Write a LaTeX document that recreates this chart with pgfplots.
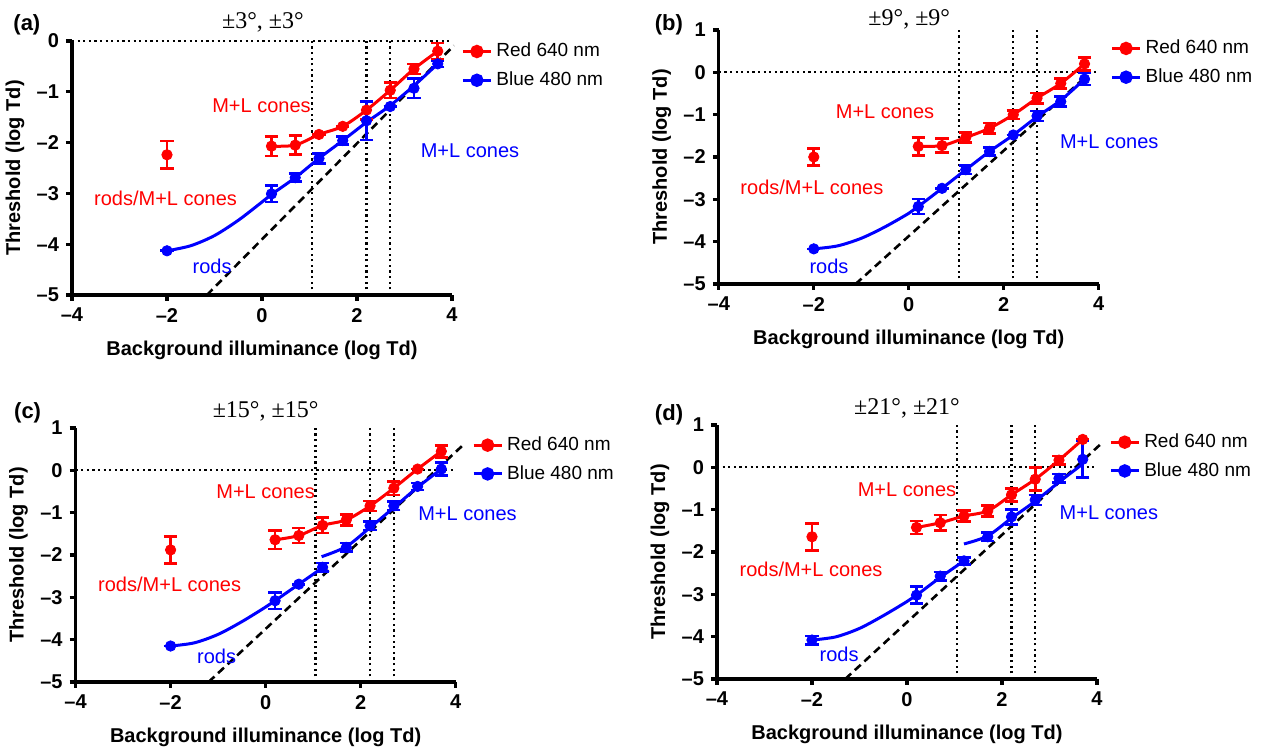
\documentclass[border=0pt]{standalone}
\usepackage{fontspec}
\setmainfont{Liberation Sans}
\newfontfamily\serif{Liberation Serif}
\usepackage{pgfplots}
\pgfplotsset{compat=1.18}
\definecolor{pred}{RGB}{255,0,0}
\definecolor{pblue}{RGB}{0,0,255}

\pgfplotsset{
  panel/.style={
    scale only axis, width=190pt, height=127pt,
    xmin=-4, xmax=4, ymin=-5, clip=false,
    axis lines*=left,
    x axis line style={-, line width=1.6pt},
    y axis line style={-, line width=1.6pt},
    tick align=outside, major tick length=3pt,
    tick style={line width=1.6pt, black},
    xtick={-4,-2,0,2,4}, xticklabels={–4,–2,0,2,4},
    ticklabel style={font=\bfseries\fontsize{10}{12}\selectfont},
    xlabel={Background illuminance (log Td)},
    ylabel={Threshold (log Td)},
    label style={font=\bfseries\fontsize{10}{12}\selectfont},
    xlabel style={at={([yshift=-27.5pt]axis description cs:0.5,0)}, anchor=center},
    ylabel style={at={([xshift=-28.5pt]axis description cs:0,0.5)}, anchor=center},
    legend style={draw=none, fill=none, inner sep=0pt,
      font=\fontsize{9.5}{11}\selectfont, row sep=2pt,
      cells={anchor=west}},
    legend image code/.code={\draw[mark repeat=2,mark phase=2,#1] plot coordinates {(0pt,0pt)(7pt,0pt)(14pt,0pt)};},
  },
  guide/.style={black, line width=1.1pt, dash pattern=on 1.1pt off 1.7pt, forget plot},
  diag/.style={black, line width=1.3pt, dash pattern=on 4pt off 2.5pt, forget plot},
  curve/.style={line width=1.5pt, smooth, no markers, forget plot},
  redpts/.style={pred, only marks, mark=*, mark size=2.6pt, forget plot,
    error bars/.cd, y dir=both, y explicit,
    error bar style={line width=1.3pt, pred},
    error mark options={rotate=90, line width=1.3pt, mark size=3.3pt, pred}},
  bluepts/.style={pblue, only marks, mark=*, mark size=2.6pt, forget plot,
    error bars/.cd, y dir=both, y explicit,
    error bar style={line width=1.3pt, pblue},
    error mark options={rotate=90, line width=1.3pt, mark size=3.3pt, pblue}},
  redleg/.style={pred, line width=1.5pt, mark=*, mark size=2.6pt},
  blueleg/.style={pblue, line width=1.5pt, mark=*, mark size=2.6pt},
}
\newcommand{\annot}{\fontsize{10}{12}\selectfont}
\newcommand{\ttl}{\serif\fontsize{12}{14}\selectfont}
\newcommand{\plab}{\bfseries\fontsize{11}{13}\selectfont}

\begin{document}
\begin{tikzpicture}
\useasboundingbox (0,0) rectangle (633pt,375pt);

% ---------------- (a) ----------------
\begin{axis}[panel, at={(36pt,227.5pt)}, anchor=south west, ymax=0,
  ytick={-5,-4,-3,-2,-1,0}, yticklabels={–5,–4,–3,–2,–1,0},
  legend style={at={(axis cs:4.19,-0.49)}, anchor=west}]
\addlegendimage{redleg}\addlegendentry{Red 640 nm}
\addlegendimage{blueleg}\addlegendentry{Blue 480 nm}
\addplot[guide] coordinates {(-4,0) (4,0)};
\addplot[guide] coordinates {(1.05,-5) (1.05,0)};
\addplot[guide] coordinates {(2.2,-5) (2.2,0)};
\addplot[guide] coordinates {(2.7,-5) (2.7,0)};
\addplot[diag] coordinates {(-1.16,-5) (4.04,-0.09)};
\addplot[curve, pblue] coordinates {(-2,-4.13) (-1.5,-4.03) (-1,-3.83) (-0.5,-3.53) (0,-3.17) (0.2,-3.02) (0.7,-2.69) (1.2,-2.31) (1.7,-1.96) (2.2,-1.60) (2.7,-1.27) (3.2,-0.88) (3.7,-0.45)};
\addplot[curve, pred] coordinates {(0.2,-2.07) (0.7,-2.05) (1.2,-1.84) (1.7,-1.68) (2.2,-1.36) (2.7,-0.97) (3.2,-0.55) (3.7,-0.20)};
\addplot[redpts] coordinates {(-2,-2.24) +- (0,0.27) (0.2,-2.07) +- (0,0.19) (0.7,-2.05) +- (0,0.19) (1.2,-1.84) +- (0,0.0) (1.7,-1.68) +- (0,0.0) (2.2,-1.36) +- (0,0.18) (2.7,-0.97) +- (0,0.15) (3.2,-0.55) +- (0,0.10) (3.7,-0.20) +- (0,0.16)};
\addplot[bluepts] coordinates {(-2,-4.13) +- (0,0.0) (0.2,-3.01) +- (0,0.16) (0.7,-2.69) +- (0,0.08) (1.2,-2.31) +- (0,0.10) (1.7,-1.96) +- (0,0.08) (2.2,-1.57) +- (0,0.38) (2.7,-1.29) +- (0,0.0) (3.2,-0.93) +- (0,0.19) (3.7,-0.45) +- (0,0.06)};
\node[text=pred, font=\annot] at (axis cs:-0.01,-1.27) {M+L cones};
\node[text=pred, font=\annot] at (axis cs:-2.03,-3.09) {rods/M+L cones};
\node[text=pblue, font=\annot] at (axis cs:4.38,-2.16) {M+L cones};
\node[text=pblue, font=\annot] at (axis cs:-1.05,-4.44) {rods};
\node[font=\ttl] at (axis cs:0.02,0.375) {±3°, ±3°};
\node[font=\plab] at (axis cs:-4.95,0.31) {(a)};
\end{axis}

% ---------------- (b) ----------------
\begin{axis}[panel, at={(359.4pt,233pt)}, anchor=south west, ymax=1,
  ytick={-5,-4,-3,-2,-1,0,1}, yticklabels={–5,–4,–3,–2,–1,0,1},
  legend style={at={(axis cs:4.24,0.225)}, anchor=west}]
\addlegendimage{redleg}\addlegendentry{Red 640 nm}
\addlegendimage{blueleg}\addlegendentry{Blue 480 nm}
\addplot[guide] coordinates {(-4,0) (4,0)};
\addplot[guide] coordinates {(1.05,-5) (1.05,1)};
\addplot[guide] coordinates {(2.2,-5) (2.2,1)};
\addplot[guide] coordinates {(2.7,-5) (2.7,1)};
\addplot[diag] coordinates {(-1.12,-5) (3.75,-0.08)};
\addplot[curve, pblue] coordinates {(-2,-4.17) (-1.5,-4.10) (-1,-3.92) (-0.5,-3.65) (0,-3.33) (0.2,-3.17) (0.7,-2.74) (1.2,-2.30) (1.7,-1.87) (2.2,-1.48) (2.7,-1.05) (3.2,-0.66) (3.7,-0.16)};
\addplot[curve, pred] coordinates {(0.2,-1.75) (0.7,-1.73) (1.2,-1.54) (1.7,-1.32) (2.2,-1.00) (2.7,-0.61) (3.2,-0.26) (3.7,0.20)};
\addplot[redpts] coordinates {(-2,-2.00) +- (0,0.20) (0.2,-1.75) +- (0,0.21) (0.7,-1.73) +- (0,0.17) (1.2,-1.54) +- (0,0.12) (1.7,-1.32) +- (0,0.12) (2.2,-1.00) +- (0,0.10) (2.7,-0.61) +- (0,0.12) (3.2,-0.26) +- (0,0.12) (3.7,0.20) +- (0,0.15)};
\addplot[bluepts] coordinates {(-2,-4.17) +- (0,0.0) (0.2,-3.17) +- (0,0.18) (0.7,-2.74) +- (0,0.0) (1.2,-2.30) +- (0,0.10) (1.7,-1.87) +- (0,0.10) (2.2,-1.48) +- (0,0.0) (2.7,-1.03) +- (0,0.12) (3.2,-0.69) +- (0,0.12) (3.7,-0.16) +- (0,0.14)};
\node[text=pred, font=\annot] at (axis cs:-0.50,-0.93) {M+L cones};
\node[text=pred, font=\annot] at (axis cs:-2.04,-2.71) {rods/M+L cones};
\node[text=pblue, font=\annot] at (axis cs:4.22,-1.63) {M+L cones};
\node[text=pblue, font=\annot] at (axis cs:-1.68,-4.58) {rods};
\node[font=\ttl] at (axis cs:0.01,1.24) {±9°, ±9°};
\node[font=\plab] at (axis cs:-5.05,1.12) {(b)};
\end{axis}

% ---------------- (c) ----------------
\begin{axis}[panel, at={(37.8pt,34pt)}, anchor=south west, ymax=1,
  ytick={-5,-4,-3,-2,-1,0,1}, yticklabels={–5,–4,–3,–2,–1,0,1},
  legend style={at={(axis cs:4.34,0.255)}, anchor=west}]
\addlegendimage{redleg}\addlegendentry{Red 640 nm}
\addlegendimage{blueleg}\addlegendentry{Blue 480 nm}
\addplot[guide] coordinates {(-4,0) (4,0)};
\addplot[guide] coordinates {(1.05,-5) (1.05,1)};
\addplot[guide] coordinates {(2.2,-5) (2.2,1)};
\addplot[guide] coordinates {(2.7,-5) (2.7,1)};
\addplot[diag] coordinates {(-1.20,-5) (4.17,0.61)};
\addplot[curve, pblue] coordinates {(-2,-4.15) (-1.5,-4.075) (-1,-3.875) (-0.5,-3.575) (0,-3.23) (0.2,-3.08) (0.7,-2.69) (1.2,-2.30)};
\addplot[curve, pblue] coordinates {(1.18,-2.04) (1.7,-1.80) (2.2,-1.35) (2.7,-0.88) (3.2,-0.40) (3.7,0.03)};
\addplot[curve, pred] coordinates {(0.2,-1.64) (0.7,-1.54) (1.2,-1.30) (1.7,-1.17) (2.2,-0.84) (2.7,-0.42) (3.2,0.03) (3.7,0.45)};
\addplot[redpts] coordinates {(-2,-1.88) +- (0,0.32) (0.2,-1.64) +- (0,0.22) (0.7,-1.54) +- (0,0.18) (1.2,-1.30) +- (0,0.18) (1.7,-1.17) +- (0,0.13) (2.2,-0.84) +- (0,0.12) (2.7,-0.42) +- (0,0.16) (3.2,0.03) +- (0,0.0) (3.7,0.45) +- (0,0.14)};
\addplot[bluepts] coordinates {(-2,-4.15) +- (0,0.0) (0.2,-3.08) +- (0,0.20) (0.7,-2.69) +- (0,0.0) (1.2,-2.29) +- (0,0.10) (1.7,-1.82) +- (0,0.10) (2.2,-1.31) +- (0,0.10) (2.7,-0.84) +- (0,0.10) (3.2,-0.38) +- (0,0.08) (3.7,0.03) +- (0,0.15)};
\node[text=pred, font=\annot] at (axis cs:0.0,-0.50) {M+L cones};
\node[text=pred, font=\annot] at (axis cs:-2.02,-2.69) {rods/M+L cones};
\node[text=pblue, font=\annot] at (axis cs:4.25,-1.03) {M+L cones};
\node[text=pblue, font=\annot] at (axis cs:-1.03,-4.39) {rods};
\node[font=\ttl] at (axis cs:0.0,1.39) {±15°, ±15°};
\node[font=\plab] at (axis cs:-5.01,1.36) {(c)};
\end{axis}

% ---------------- (d) ----------------
\begin{axis}[panel, at={(358.5pt,35.5pt)}, anchor=south west, ymax=1,
  ytick={-5,-4,-3,-2,-1,0,1}, yticklabels={–5,–4,–3,–2,–1,0,1},
  legend style={at={(axis cs:4.25,0.255)}, anchor=west}]
\addlegendimage{redleg}\addlegendentry{Red 640 nm}
\addlegendimage{blueleg}\addlegendentry{Blue 480 nm}
\addplot[guide] coordinates {(-4,0) (4,0)};
\addplot[guide] coordinates {(1.05,-5) (1.05,1)};
\addplot[guide] coordinates {(2.2,-5) (2.2,1)};
\addplot[guide] coordinates {(2.7,-5) (2.7,1)};
\addplot[diag] coordinates {(-1.30,-5) (4.06,0.53)};
\addplot[curve, pblue] coordinates {(-2,-4.08) (-1.5,-4.005) (-1,-3.805) (-0.5,-3.505) (0,-3.17) (0.2,-3.02) (0.7,-2.60) (1.2,-2.21)};
\addplot[curve, pblue] coordinates {(1.2,-1.81) (1.7,-1.62) (2.2,-1.20) (2.7,-0.80) (3.2,-0.35) (3.7,0.08)};
\addplot[curve, pred] coordinates {(0.2,-1.42) (0.7,-1.31) (1.2,-1.15) (1.7,-1.03) (2.2,-0.65) (2.7,-0.28) (3.2,0.17) (3.7,0.66)};
\addplot[redpts] coordinates {(-2,-1.64) +- (0,0.32) (0.2,-1.42) +- (0,0.15) (0.7,-1.31) +- (0,0.18) (1.2,-1.15) +- (0,0.13) (1.7,-1.03) +- (0,0.13) (2.2,-0.65) +- (0,0.15) (2.7,-0.28) +- (0,0.27) (3.2,0.17) +- (0,0.10) (3.7,0.66) +- (0,0.0)};
\addplot[bluepts] coordinates {(-2,-4.08) +- (0,0.10) (0.2,-3.02) +- (0,0.20) (0.7,-2.57) +- (0,0.10) (1.2,-2.21) +- (0,0.08) (1.7,-1.64) +- (0,0.10) (2.2,-1.17) +- (0,0.18) (2.7,-0.77) +- (0,0.12) (3.2,-0.26) +- (0,0.10) (3.7,0.19) +- (0,0.43)};
\node[text=pred, font=\annot] at (axis cs:0.0,-0.54) {M+L cones};
\node[text=pred, font=\annot] at (axis cs:-2.02,-2.41) {rods/M+L cones};
\node[text=pblue, font=\annot] at (axis cs:4.25,-1.07) {M+L cones};
\node[text=pblue, font=\annot] at (axis cs:-1.43,-4.41) {rods};
\node[font=\ttl] at (axis cs:0.0,1.39) {±21°, ±21°};
\node[font=\plab] at (axis cs:-5.01,1.24) {(d)};
\end{axis}
\end{tikzpicture}
\end{document}
